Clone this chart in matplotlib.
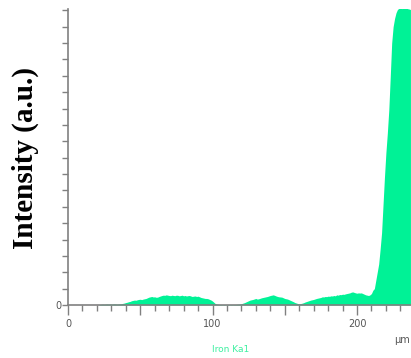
import numpy as np
import matplotlib
matplotlib.use("Agg")
import matplotlib.pyplot as plt
from matplotlib.ticker import MultipleLocator

# Line-scan position (µm, 1 µm steps) and Fe Kα1 counts
position_um = np.arange(0, 238, 1)
intensity = [
    0, 0, 0, 0, 0, 0, 0, 0, 0, 0, 0, 0, 0, 0, 0, 0, 0, 0, 0, 0, 0, 0,
    3, 4, 5, 4, 5, 6, 5, 6, 5, 6, 7, 6, 5, 6, 7, 8,
    10, 12, 15, 17, 20, 22, 26, 28, 30, 29, 32, 34, 35, 33, 36, 38, 40, 44,
    48, 50, 52, 49, 50, 47, 48, 52, 55, 58, 60, 59, 62, 60, 58, 57, 60, 58,
    57, 60, 59, 56, 58, 60, 56, 58, 55, 57, 58, 55, 52, 54, 55, 52, 54, 50,
    46, 44, 42, 40, 40, 38, 34, 30, 24, 16, 8, 5, 4, 3,
    3, 2, 3, 2, 2, 3, 2, 3, 2, 3, 3, 4, 5, 6,
    8, 11, 14, 18, 22, 26, 30, 32, 34, 37, 40, 36, 38, 41, 44, 46, 48, 50,
    52, 55, 58, 60, 62, 59, 55, 52, 50, 49, 48, 44, 40, 38, 36, 32, 28, 24,
    20, 15, 12, 9,
    8, 9, 11, 14, 18, 21, 24, 27, 30, 32, 34, 37, 40, 42, 44, 46, 50, 49,
    52, 51, 54, 53,
    56, 55, 58, 56, 62, 60, 64, 63, 66, 65, 68, 70, 72, 74, 78, 80, 77, 74,
    72, 74, 73, 74, 70, 66, 62, 60, 58, 62, 70, 90,
    100, 150, 200, 250, 340, 440, 610, 780, 930, 1050, 1190, 1390, 1600,
    1700, 1750, 1785, 1805, 1812, 1815, 1810, 1815, 1812, 1815, 1810, 1808,
    1805,
]
n = min(len(position_um), len(intensity))
position_um = position_um[:n]
intensity = np.array(intensity[:n])

x_ticklabels = ["0", "", "100", "", "200"]
series_name = "Iron Ka1"

W, H = 411, 358
fig = plt.figure(figsize=(W / 100, H / 100), dpi=100)
ax = fig.add_axes([68 / W, (H - 305) / H, (W - 68) / W, (305 - 9) / H])

fill_color = "#00F296"
ax.fill_between(position_um, 0, intensity, color=fill_color, linewidth=0)

ax.set_xlim(0, (W - 68) / 1.445)
ax.set_ylim(0, 1808)

axis_grey = "#808080"
for side in ("top", "right"):
    ax.spines[side].set_visible(False)
for side in ("left", "bottom"):
    ax.spines[side].set_color(axis_grey)
    ax.spines[side].set_linewidth(1.2)

# x: labelled every 100, longer ticks every 50, short ticks every 10
ax.set_xticks([0, 50, 100, 150, 200])
ax.set_xticklabels(x_ticklabels)
ax.xaxis.set_minor_locator(MultipleLocator(10))
ax.tick_params(axis="x", which="major", length=7, width=1, color=axis_grey,
               labelsize=7, labelcolor="#555555", pad=3)
ax.tick_params(axis="x", which="minor", length=4, width=1, color=axis_grey)

# y: unlabelled ticks every 100, only zero labelled
ax.set_yticks(np.arange(0, 1801, 100))
ax.set_yticklabels(["0"] + [""] * 18)
ax.tick_params(axis="y", length=4, width=1, color=axis_grey, labelsize=7,
               labelcolor="#555555", pad=1)

ax.set_ylabel("Intensity (a.u.)", family="Liberation Serif",
              fontweight="bold", fontsize=21)
ax.yaxis.set_label_coords((39 - 68) / (W - 68), (305 - 158) / (305 - 9))

fig.text(410 / W, 1 - 340 / H, "µm", fontsize=7, color="#555555",
         ha="right", va="center")
fig.text(231 / W, 1 - 349 / H, series_name, fontsize=6.5, color="#3CF0A0",
         ha="center", va="center")

fig.savefig("out.png", dpi=100)
